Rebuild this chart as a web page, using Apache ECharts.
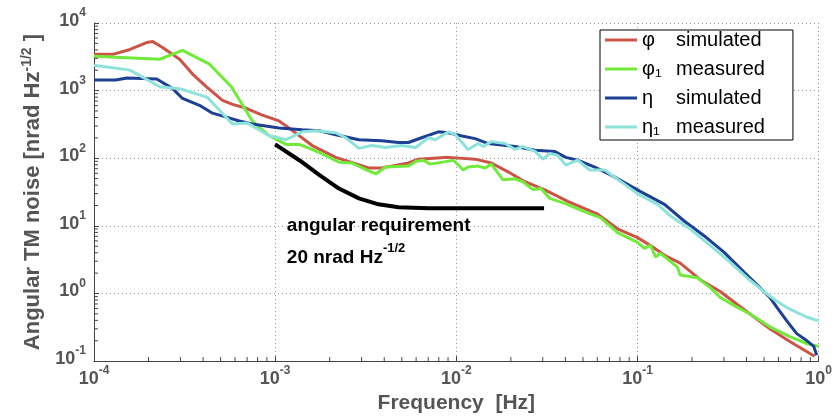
<!DOCTYPE html>
<html><head><meta charset="utf-8">
<script src="https://cdn.jsdelivr.net/npm/echarts@6/dist/echarts.min.js"></script>
<style>html,body{margin:0;padding:0;background:#fff}#c{width:835px;height:419px}</style>
</head><body><div id="c"></div>
<script>
// ---- data: [frequency Hz, noise nrad/sqrt(Hz)] ----
const phiSim = [[1e-4,3440],[1.27e-4,3440],[1.58e-4,4060],[1.95e-4,5130],[2.11e-4,5310],[2.39e-4,4350],[2.97e-4,2910],[3.5e-4,1760],[4.18e-4,1140],[5.12e-4,716],[5.81e-4,627],[6.93e-4,548],[8.49e-4,435],[1.05e-3,356],[1.19e-3,281],[1.6e-3,154],[2.16e-3,103],[3.28e-3,72],[3.87e-3,72],[5.44e-3,85],[6.18e-3,97],[9.04e-3,103],[1.27e-2,97],[1.56e-2,85],[1.93e-2,63],[2.39e-2,45],[3.08e-2,34],[4.12e-2,23],[6.03e-2,14.9],[7.76e-2,9.06],[0.1,6.7],[0.118,5.13],[0.141,3.67],[0.172,2.81],[0.222,1.6],[0.286,1.07],[0.354,0.693],[0.44,0.449],[0.538,0.301],[0.693,0.195],[0.95,0.118]];
const phiMeas = [[1e-4,3210],[2.31e-4,2910],[3.08e-4,3930],[4.34e-4,2460],[5.73e-4,1140],[7.48e-4,356],[9.27e-4,215],[1.15e-3,160],[1.36e-3,160],[1.75e-3,122],[2.25e-3,87.5],[2.65e-3,85],[3.28e-3,65],[3.59e-3,58.6],[4.07e-3,74],[5.44e-3,76.6],[6.03e-3,90.6],[6.58e-3,93.5],[7.19e-3,81.8],[9.04e-3,90.6],[9.64e-3,93.5],[1.09e-2,67],[1.16e-2,74],[1.32e-2,76.6],[1.44e-2,71.6],[1.56e-2,81.8],[1.81e-2,48],[2.11e-2,49.7],[2.33e-2,44.9],[2.65e-2,34.4],[2.93e-2,35.6],[3.28e-2,25.5],[3.97e-2,21.5],[4.86e-2,17.1],[6.27e-2,13.1],[7.76e-2,7.93],[0.1,5.68],[0.109,4.65],[0.118,5.13],[0.126,3.44],[0.134,3.93],[0.166,2.46],[0.172,1.88],[0.214,1.71],[0.252,1.22],[0.286,0.875],[0.354,0.627],[0.418,0.497],[0.538,0.321],[0.693,0.23],[0.859,0.182],[1.0,0.165]];
const etaSim = [[1e-4,1440],[1.32e-4,1440],[1.52e-4,1540],[2.22e-4,1490],[2.72e-4,1070],[3.08e-4,766],[3.82e-4,607],[4.51e-4,464],[5.38e-4,406],[6.34e-4,356],[7.48e-4,321],[1.05e-3,281],[1.41e-3,263],[1.75e-3,255],[2.16e-3,223],[2.9e-3,188],[3.87e-3,182],[4.8e-3,171],[5.44e-3,171],[6.43e-3,201],[7.96e-3,246],[9.04e-3,238],[1.06e-2,215],[1.27e-2,195],[1.5e-2,165],[2.11e-2,149],[2.72e-2,131],[3.5e-2,126],[4.02e-2,103],[4.68e-2,93.5],[5.81e-2,74],[7.11e-2,56.8],[0.104,32.1],[0.141,20.8],[0.181,11.8],[0.233,7.16],[0.301,4.06],[0.387,2.08],[0.456,1.35],[0.538,0.875],[0.587,0.627],[0.667,0.393],[0.757,0.255],[0.859,0.201],[0.94,0.165],[0.975,0.122]];
const etaMeas = [[1e-4,2380],[1.58e-4,2010],[2.31e-4,1140],[2.97e-4,1070],[4.23e-4,793],[5.81e-4,321],[7.01e-4,333],[9.27e-4,215],[1.15e-3,188],[1.41e-3,246],[1.68e-3,255],[2.16e-3,238],[2.45e-3,201],[2.9e-3,140],[3.41e-3,154],[4.07e-3,144],[4.99e-3,154],[5.96e-3,144],[7.02e-3,201],[7.67e-3,188],[9.04e-3,246],[9.89e-3,223],[1.16e-2,135],[1.32e-2,165],[1.41e-2,149],[1.56e-2,176],[1.86e-2,165],[2.11e-2,135],[2.33e-2,149],[2.72e-2,126],[3.01e-2,97],[3.28e-2,118],[3.63e-2,110],[4.02e-2,79],[4.68e-2,93.5],[5.44e-2,67],[6.59e-2,67],[0.1,30],[0.129,20.8],[0.152,14],[0.195,9.06],[0.252,5.13],[0.324,2.91],[0.402,1.71],[0.499,1.07],[0.587,0.766],[0.693,0.586],[0.859,0.449],[1.0,0.393]];
const requirement = [[1.0e-3,160],[1.36e-3,93.5],[1.75e-3,56.8],[2.25e-3,35.6],[2.9e-3,25.5],[3.72e-3,20.8],[4.8e-3,18.8],[7.02e-3,18.2],[3.05e-2,18.2]];

const symbols = ['φ', 'φ₁', 'η', 'η₁'];
const kinds = ['simulated', 'measured', 'simulated', 'measured'];
const seriesNames = ['φ simulated', 'φ1 measured', 'η simulated', 'η1 measured'];
const colors = ['#cc5447', '#72ea3c', '#1d3f94', '#8de2da'];
const xRange = [1e-4, 1];
const yRange = [1e-1, 1e4];
const xMinor = [], yMinor = [];
for (let d = -4; d <= -1; d++) for (let k = 2; k <= 9; k++) xMinor.push(k * Math.pow(10, d));
for (let d = -1; d <= 3; d++) for (let k = 2; k <= 9; k++) yMinor.push(k * Math.pow(10, d));
const yTitle = ['Angular TM noise [nrad Hz', '-1/2', ' ]'];
const xTitle = 'Frequency  [Hz]';
const noteLines = ['angular requirement', '20 nrad Hz', '-1/2'];
const noteAnchor = [[1.16e-3, 10], [1.16e-3, 3.8]];

const FONT = '"Liberation Sans", Arial, Helvetica, sans-serif';
const AX = '#555';
const chart = echarts.init(document.getElementById('c'), null, {renderer: 'canvas'});

function expLabel(v) {
  const e = Math.round(Math.log10(v));
  return '{b|10}{e|' + e + '}';
}
const tickRich = {
  b: {fontSize: 18, fontWeight: 'bold', color: AX, fontFamily: FONT, lineHeight: 23, verticalAlign: 'bottom'},
  e: {fontSize: 12, fontWeight: 'bold', color: AX, fontFamily: FONT, lineHeight: 12, verticalAlign: 'top'}
};

function minorTicks(values, horizontal) {
  return {
    type: 'custom', silent: true, clip: false, z: 5,
    data: values.map(v => horizontal ? [v, yRange[0]] : [xRange[0], v]),
    renderItem: (params, api) => {
      const p = api.coord([api.value(0), api.value(1)]);
      return {type: 'line',
        shape: horizontal ? {x1: p[0], y1: p[1], x2: p[0], y2: p[1] - 4} : {x1: p[0], y1: p[1], x2: p[0] + 4, y2: p[1]},
        style: {stroke: '#444', lineWidth: 1}};
    }
  };
}

const lineData = [phiSim, phiMeas, etaSim, etaMeas];
const series = lineData.map((d, i) => ({
  name: seriesNames[i], type: 'line', data: d, symbol: 'none', showSymbol: false, smooth: false,
  lineStyle: {color: colors[i], width: 3}, itemStyle: {color: colors[i]}, z: 3
}));
series.push({name: 'requirement', type: 'line', data: requirement, symbol: 'none',
  lineStyle: {color: '#000', width: 4}, z: 4});
series.push(minorTicks(xMinor, true));
series.push(minorTicks(yMinor, false));

chart.setOption({
  animation: false,
  backgroundColor: '#fff',
  grid: {left: 94, right: 13, top: 23, bottom: 52, containLabel: false},
  xAxis: {
    type: 'log', logBase: 10, min: xRange[0], max: xRange[1],
    axisLine: {show: true, lineStyle: {color: '#444', width: 1}},
    axisTick: {show: true, inside: true, length: 5, lineStyle: {color: '#444'}},
    splitLine: {show: true, lineStyle: {color: '#999', type: [1, 3], width: 1}},
    axisLabel: {formatter: expLabel, rich: tickRich, margin: 4},
    name: xTitle, nameLocation: 'middle', nameGap: 29,
    nameTextStyle: {fontSize: 21, fontWeight: 'bold', color: AX, fontFamily: FONT}
  },
  yAxis: {
    type: 'log', logBase: 10, min: yRange[0], max: yRange[1],
    axisLine: {show: true, lineStyle: {color: '#444', width: 1}},
    axisTick: {show: true, inside: true, length: 5, lineStyle: {color: '#444'}},
    splitLine: {show: true, lineStyle: {color: '#999', type: [1, 3], width: 1}},
    axisLabel: {formatter: expLabel, rich: tickRich, margin: 8, padding: [0, 0, 9, 0]},
    name: '{t|' + yTitle[0] + '}{e|' + yTitle[1] + '}{t|' + yTitle[2] + '}',
    nameLocation: 'middle', nameRotate: 90, nameGap: 50,
    nameTextStyle: {rich: {
      t: {fontSize: 22, fontWeight: 'bold', color: AX, fontFamily: FONT, lineHeight: 24, verticalAlign: 'bottom'},
      e: {fontSize: 14, fontWeight: 'bold', color: AX, fontFamily: FONT, lineHeight: 14, verticalAlign: 'top'}
    }}
  },
  legend: {
    orient: 'vertical', left: 600, top: 30,
    data: seriesNames, icon: 'rect',
    backgroundColor: '#fff', borderColor: '#000', borderWidth: 1,
    padding: [0, 28, 3, 5], itemGap: 9, itemWidth: 32, itemHeight: 3,
    formatter: name => {
      const i = seriesNames.indexOf(name);
      return '{g|' + symbols[i] + '}{t|' + kinds[i] + '}';
    },
    textStyle: {color: '#000', fontFamily: FONT, fontSize: 20, rich: {
      g: {fontSize: 20, width: 34, fontFamily: FONT, color: '#000', lineHeight: 20},
      t: {fontSize: 20, fontFamily: FONT, color: '#000', lineHeight: 20}
    }}
  },
  series: series
});

const a1 = chart.convertToPixel({gridIndex: 0}, noteAnchor[0]);
const a2 = chart.convertToPixel({gridIndex: 0}, noteAnchor[1]);
chart.setOption({graphic: [
  {type: 'text', x: a1[0], y: a1[1], z: 10, style: {text: noteLines[0], fill: '#000',
    font: 'bold 19px ' + FONT, verticalAlign: 'middle', align: 'left'}},
  {type: 'text', x: a2[0], y: a2[1], z: 10, style: {
    text: '{t|' + noteLines[1] + '}{e|' + noteLines[2] + '}', verticalAlign: 'middle', align: 'left',
    rich: {
      t: {fontSize: 19, fontWeight: 'bold', fill: '#000', fontFamily: FONT, lineHeight: 25, verticalAlign: 'bottom'},
      e: {fontSize: 13, fontWeight: 'bold', fill: '#000', fontFamily: FONT, lineHeight: 13, verticalAlign: 'top'}
    }}}
]});
</script>
</body></html>
